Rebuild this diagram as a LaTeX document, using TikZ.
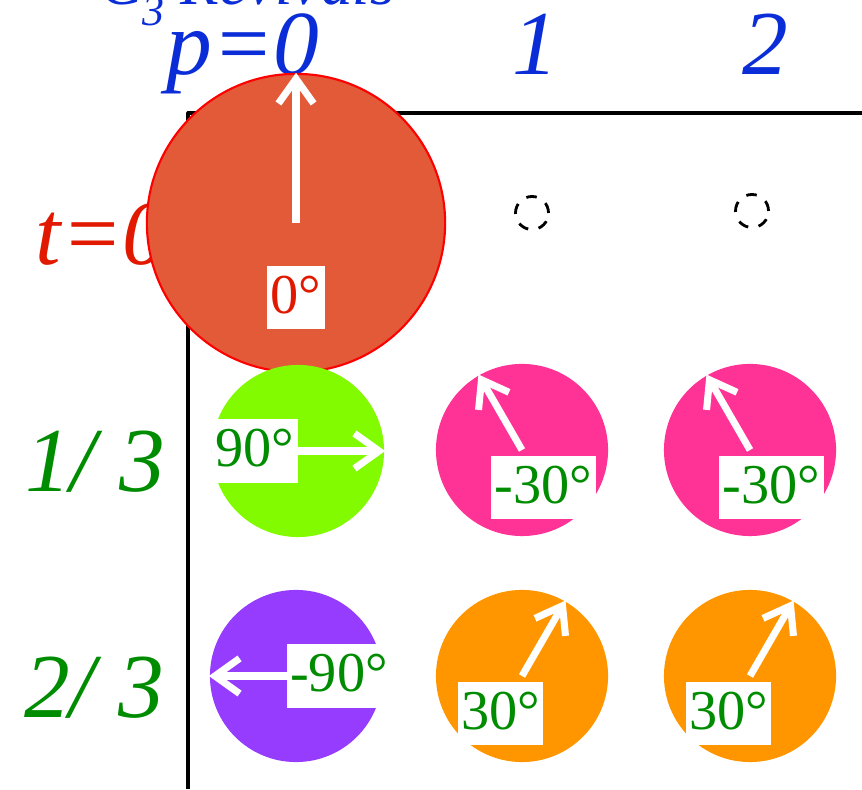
\documentclass[tikz,border=0pt]{standalone}
\usepackage{fontspec}
\setmainfont{Liberation Serif}
\usetikzlibrary{arrows.meta,calc}

\definecolor{bleuTitre}{RGB}{10,45,215}
\definecolor{rougeTexte}{RGB}{225,25,0}
\definecolor{vertTexte}{RGB}{0,140,0}
\definecolor{rougeDisque}{RGB}{226,90,56}
\definecolor{vertDisque}{RGB}{130,250,0}
\definecolor{roseDisque}{RGB}{255,50,150}
\definecolor{violetDisque}{RGB}{150,60,255}
\definecolor{orangeDisque}{RGB}{255,150,0}

\tikzset{
    entete/.style={anchor=base, font=\fontsize{26}{26}\selectfont\itshape},
    disque/.style={circle, inner sep=0pt, line width=0.6pt},
    vide/.style={circle, draw=black, dashed, line width=0.8pt, minimum size=0.33cm, inner sep=0pt},
    phasor/.style={draw=white, line width=2pt, -{Straight Barb[length=7pt, width=10pt]}},
    etiquette/.style={fill=white, inner xsep=1pt, inner ysep=1pt, text height=12.5pt, text depth=3.5pt, font=\fontsize{16}{16}\selectfont}
}

\begin{document}
\begin{tikzpicture}[x=0.01cm, y=0.01cm, line join=round]
    \clip (0,0) rectangle (862,789);

    % titre et en-tetes
    \node[anchor=base west, text=bleuTitre, font=\fontsize{18}{18}\selectfont\itshape] (titre) at (88,784)
        {C\raisebox{-0.32em}{\fontsize{12.5}{12.5}\selectfont 3} Revivals};
    \node[entete, text=bleuTitre] (p0) at (243,714) {p=0};
    \node[entete, text=bleuTitre] (p1) at (535,714) {1};
    \node[entete, text=bleuTitre] (p2) at (765,714) {2};
    \node[entete, text=rougeTexte] (t0) at (102,524) {t=0};
    \node[entete, text=vertTexte] (t1) at (95,297) {1/ 3};
    \node[entete, text=vertTexte] (t2) at (94,71) {2/ 3};

    \draw[line width=0.9pt] (862,676) -- (188,676) -- (188,0);

    \node[vide] (c10) at (532,576) {};
    \node[vide] (c20) at (752,578) {};

    \foreach \i/\j/\cx/\cy/\rayon/\couleur/\bord/\phase/\texte/\encre in {
        0/0/296/566/149/rougeDisque/red/90/0°/rougeTexte,
        0/1/298/338/86/vertDisque/none/0/90°/vertTexte,
        1/1/522/339/86/roseDisque/none/120/-30°/vertTexte,
        2/1/750/339/86/roseDisque/none/120/-30°/vertTexte,
        0/2/296/113/86/violetDisque/none/180/-90°/vertTexte,
        1/2/522/113/86/orangeDisque/none/60/30°/vertTexte,
        2/2/750/113/86/orangeDisque/none/60/30°/vertTexte} {
        \node[disque, fill=\couleur, draw=\bord, minimum size={0.02cm*\rayon}] (c\i\j) at (\cx,\cy) {};
        \draw[phasor] (c\i\j.center) -- (c\i\j.\phase);
        \node[etiquette, text=\encre] (e\i\j) at ($(c\i\j)+(\phase+180:{0.5*\rayon})$) {\texte};
    }
\end{tikzpicture}
\end{document}
